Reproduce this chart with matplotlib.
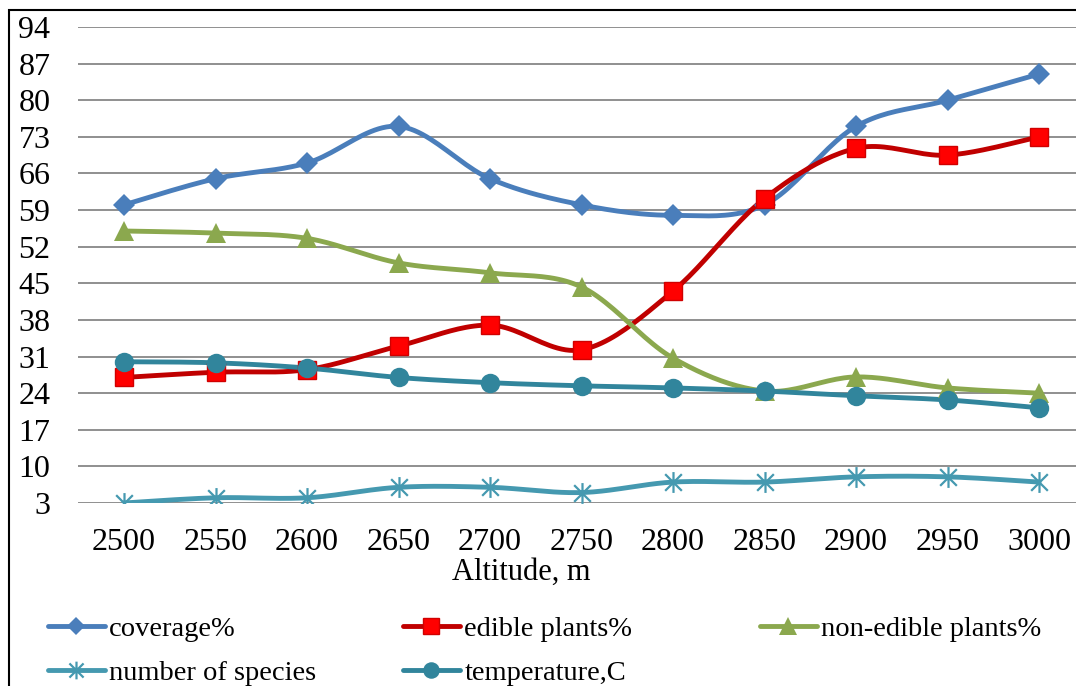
import numpy as np
import matplotlib
matplotlib.use("Agg")
from matplotlib import pyplot as plt
from matplotlib.path import Path
from matplotlib.lines import Line2D
from matplotlib.patches import Rectangle

plt.rcParams['font.family'] = ['Liberation Serif', 'DejaVu Serif']

altitude = [2500, 2550, 2600, 2650, 2700, 2750, 2800, 2850, 2900, 2950, 3000]
coverage = [60, 65, 68, 75, 65, 60, 58, 60, 75, 80, 85]
edible = [27, 28, 28.5, 33, 37, 32.3, 43.5, 61.2, 70.8, 69.5, 73]
non_edible = [55, 54.6, 53.6, 48.9, 47, 44.3, 30.7, 24.4, 27.1, 25, 24]
species = [3, 4, 4, 6, 6, 5, 7, 7, 8, 8, 7]
temperature = [30, 29.8, 28.8, 27, 26, 25.4, 25, 24.4, 23.5, 22.7, 21.2]
y_ticks = list(range(3, 95, 7))

W, H = 1076, 686


def smooth(x, y, n=24):
    # bezier curve through the points, like excel "smoothed line"
    p = np.column_stack([x, y]).astype(float)
    out = []
    for i in range(len(p) - 1):
        p0 = p[i - 1] if i > 0 else p[i]
        p1 = p[i]
        p2 = p[i + 1]
        p3 = p[i + 2] if i + 2 < len(p) else p[i + 1]
        c1 = p1 + (p2 - p0) / 6
        c2 = p2 - (p3 - p1) / 6
        t = np.linspace(0, 1, n)[:, None]
        seg = (1 - t) ** 3 * p1 + 3 * (1 - t) ** 2 * t * c1 + 3 * (1 - t) * t ** 2 * c2 + t ** 3 * p2
        out.append(seg if i == 0 else seg[1:])
    s = np.vstack(out)
    return s[:, 0], s[:, 1]


star = Path([(0, -1), (0, 1), (-0.8, -0.8), (0.8, 0.8), (-0.8, 0.8), (0.8, -0.8)],
            [Path.MOVETO, Path.LINETO, Path.MOVETO, Path.LINETO, Path.MOVETO, Path.LINETO])

series = [
    ("coverage%", coverage, "#4A7EBB", dict(marker="D", ms=11, mfc="#4A7EBB", mec="#4A7EBB", mew=0)),
    ("edible plants%", edible, "#C00000", dict(marker="s", ms=13.5, mfc="#FF0000", mec="#D00000", mew=1)),
    ("non-edible plants%", non_edible, "#8BA84E", dict(marker="^", ms=14.5, mfc="#8BA84E", mec="#8BA84E", mew=0)),
    ("number of species", species, "#4599B0", dict(marker=star, ms=15, mfc="none", mec="#4599B0", mew=1.6)),
    ("temperature,C", temperature, "#31859C", dict(marker="o", ms=14, mfc="#31859C", mec="#31859C", mew=0)),
]

fig = plt.figure(figsize=(W / 100, H / 100), dpi=100)
ax = fig.add_axes([78.25 / W, 1 - 503 / H, (1084.75 - 78.25) / W, 476 / H])

xi = np.arange(len(altitude))
handles = []
for name, vals, col, mk in series:
    sx, sy = smooth(xi, vals)
    ax.plot(sx, sy, color=col, lw=3.5, solid_capstyle="round", zorder=3)
    ax.plot(xi, vals, ls="none", zorder=4, **mk)
    handles.append(Line2D([], [], color=col, lw=3.5, solid_capstyle="round", **mk))

ax.set_xlim(-0.5, len(altitude) - 0.5)
ax.set_ylim(3, 94)
ax.set_yticks(y_ticks)
ax.set_xticks(xi)
ax.set_xticklabels([str(a) for a in altitude])
ax.tick_params(axis="both", length=0, labelsize=23)
ax.tick_params(axis="y", pad=20)
ax.tick_params(axis="x", pad=18)
ax.grid(axis="y", color="#878787", lw=1.3)
ax.set_axisbelow(True)
for sp in ax.spines.values():
    sp.set_visible(False)

fig.text(521 / W, 1 - 580 / H, "Altitude, m", ha="center", va="baseline", fontsize=22)

# frame around the chart area
fig.patches.append(Rectangle((8.5 / W, -0.1), 1.2, 1 - 9.5 / H + 0.1, transform=fig.transFigure,
                             fill=False, ec="black", lw=1.5))

names = [s[0] for s in series]
cols = [([0, 3], 48), ([1, 4], 403), ([2], 760)]
for idx, x0 in cols:
    fig.legend(handles=[handles[i] for i in idx], labels=[names[i] for i in idx],
               loc="upper left", bbox_to_anchor=(x0 / W, 1 - 616 / H), frameon=False,
               borderpad=0, borderaxespad=0, handlelength=2.0, handletextpad=0.15,
               labelspacing=0.62, fontsize=20.5, markerscale=0.85)

fig.savefig("out.png", dpi=100)
